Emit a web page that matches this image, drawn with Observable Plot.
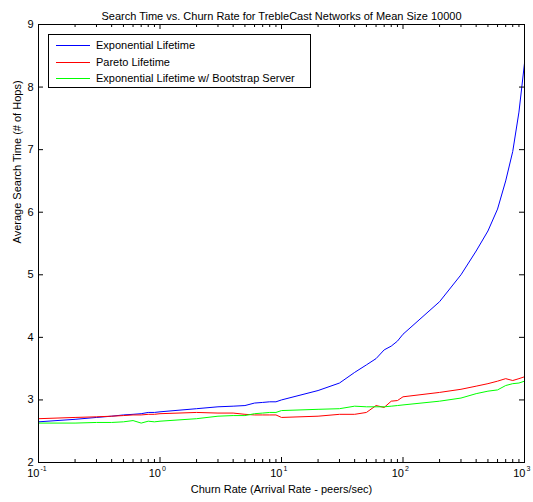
<!DOCTYPE html>
<html><head><meta charset="utf-8">
<script src="https://cdn.jsdelivr.net/npm/d3@7"></script>
<script src="https://cdn.jsdelivr.net/npm/@observablehq/plot@0.6"></script>
<style>
body{margin:0;background:#fff;font-family:"Liberation Sans",Arial,sans-serif;}
#wrap{position:relative;width:533px;height:502px;}
#legend{position:absolute;left:48px;top:34px;width:263px;height:54px;border:1px solid #000;background:#fff;box-sizing:border-box;font-size:11px;color:#000;}
.row{position:absolute;left:0;height:14px;width:100%;}
.row .ln{position:absolute;left:7px;width:34px;top:7px;height:1px;}
.row .tx{position:absolute;left:47px;top:0;line-height:14px;white-space:nowrap;}
</style></head><body><div id="wrap"></div>
<script>
const chartTitle = "Search Time vs. Churn Rate for TrebleCast Networks of Mean Size 10000";
const xLabel = "Churn Rate (Arrival Rate - peers/sec)";
const yLabel = "Average Search Time (# of Hops)";
const seriesNames = ["Exponential Lifetime", "Pareto Lifetime", "Exponential Lifetime w/ Bootstrap Server"];
const seriesColors = ["#0000ff", "#ff0000", "#00ff00"];

const churnRates = [0.1,0.2,0.3,0.4,0.5,0.6,0.7,0.8,0.9,
  1,2,3,4,5,6,7,8,9,
  10,20,30,40,50,60,70,80,90,
  100,200,300,400,500,600,700,800,900,1000];
const expLifetime = [2.65,2.69,2.72,2.74,2.76,2.77,2.78,2.80,2.80,
  2.81,2.86,2.89,2.90,2.91,2.95,2.96,2.97,2.97,
  3.00,3.15,3.27,3.44,3.56,3.66,3.80,3.86,3.94,
  4.05,4.57,5.00,5.38,5.70,6.05,6.50,6.97,7.60,8.38];
const paretoLifetime = [2.70,2.72,2.73,2.74,2.75,2.76,2.76,2.77,2.77,
  2.78,2.80,2.79,2.79,2.77,2.76,2.76,2.76,2.76,
  2.72,2.74,2.77,2.77,2.80,2.91,2.88,2.98,2.99,
  3.05,3.12,3.17,3.22,3.26,3.30,3.34,3.31,3.34,3.37];
const expBootstrap = [2.63,2.63,2.64,2.64,2.65,2.67,2.63,2.66,2.65,
  2.66,2.70,2.74,2.75,2.75,2.78,2.79,2.80,2.80,
  2.83,2.85,2.86,2.90,2.89,2.89,2.89,2.90,2.91,
  2.92,2.98,3.03,3.10,3.14,3.16,3.23,3.26,3.27,3.30];

const xMajorTicks = [0.1, 1, 10, 100, 1000];
const xMinorTicks = [0.2,0.3,0.4,0.5,0.6,0.7,0.8,0.9,2,3,4,5,6,7,8,9,20,30,40,50,60,70,80,90,200,300,400,500,600,700,800,900];
const yTicks = [2,3,4,5,6,7,8,9];

const W = 533, H = 502, mL = 38, mR = 9, mT = 24, mB = 40;
const fw = W - mL - mR, fh = H - mT - mB;

const allSeries = [expLifetime, paretoLifetime, expBootstrap];
const lines = allSeries.map((vals, i) =>
  Plot.line(churnRates.map((x, j) => ({x, y: vals[j]})), {x: "x", y: "y", stroke: seriesColors[i], strokeWidth: 1}));

const chart = Plot.plot({
  width: W, height: H,
  marginLeft: mL, marginRight: mR, marginTop: mT, marginBottom: mB,
  style: {fontFamily: "Liberation Sans, Arial, sans-serif", fontSize: "11px", background: "#fff", color: "#000"},
  x: {type: "log", domain: [0.1, 1000], axis: null},
  y: {domain: [2, 9], axis: null},
  marks: [
    ...lines,
    Plot.frame({stroke: "#000", strokeWidth: 1}),
    Plot.tickX(xMajorTicks, {x: d => d, stroke: "#000", insetTop: fh - 5}),
    Plot.tickX(xMajorTicks, {x: d => d, stroke: "#000", insetBottom: fh - 5}),
    Plot.tickX(xMinorTicks, {x: d => d, stroke: "#000", insetTop: fh - 3}),
    Plot.tickX(xMinorTicks, {x: d => d, stroke: "#000", insetBottom: fh - 3}),
    Plot.tickY(yTicks, {y: d => d, stroke: "#000", insetRight: fw - 5}),
    Plot.tickY(yTicks, {y: d => d, stroke: "#000", insetLeft: fw - 5}),
    Plot.text(yTicks, {y: d => d, text: d => String(d), frameAnchor: "left", textAnchor: "end", dx: -5, fontSize: 11}),
    Plot.text(xMajorTicks, {x: d => d, text: () => "10", frameAnchor: "bottom", textAnchor: "end", dx: 1, dy: 14, fontSize: 11}),
    Plot.text(xMajorTicks, {x: d => d, text: d => String(Math.round(Math.log10(d))), frameAnchor: "bottom", textAnchor: "start", dx: 2, dy: 8, fontSize: 7}),
    Plot.text([chartTitle], {text: d => d, frameAnchor: "top", dy: -12, fontSize: 11}),
    Plot.text([xLabel], {text: d => d, frameAnchor: "bottom", dy: 30, fontSize: 11}),
    Plot.text([yLabel], {text: d => d, frameAnchor: "left", dx: -21, rotate: -90, fontSize: 11})
  ]
});

const wrap = document.getElementById("wrap");
wrap.appendChild(chart);

const legend = document.createElement("div");
legend.id = "legend";
seriesNames.forEach((name, i) => {
  const row = document.createElement("div");
  row.className = "row";
  row.style.top = (3 + i * 16.5) + "px";
  const ln = document.createElement("div");
  ln.className = "ln";
  ln.style.background = seriesColors[i];
  const tx = document.createElement("div");
  tx.className = "tx";
  tx.textContent = name;
  row.appendChild(ln); row.appendChild(tx);
  legend.appendChild(row);
});
wrap.appendChild(legend);
</script>
</body></html>
